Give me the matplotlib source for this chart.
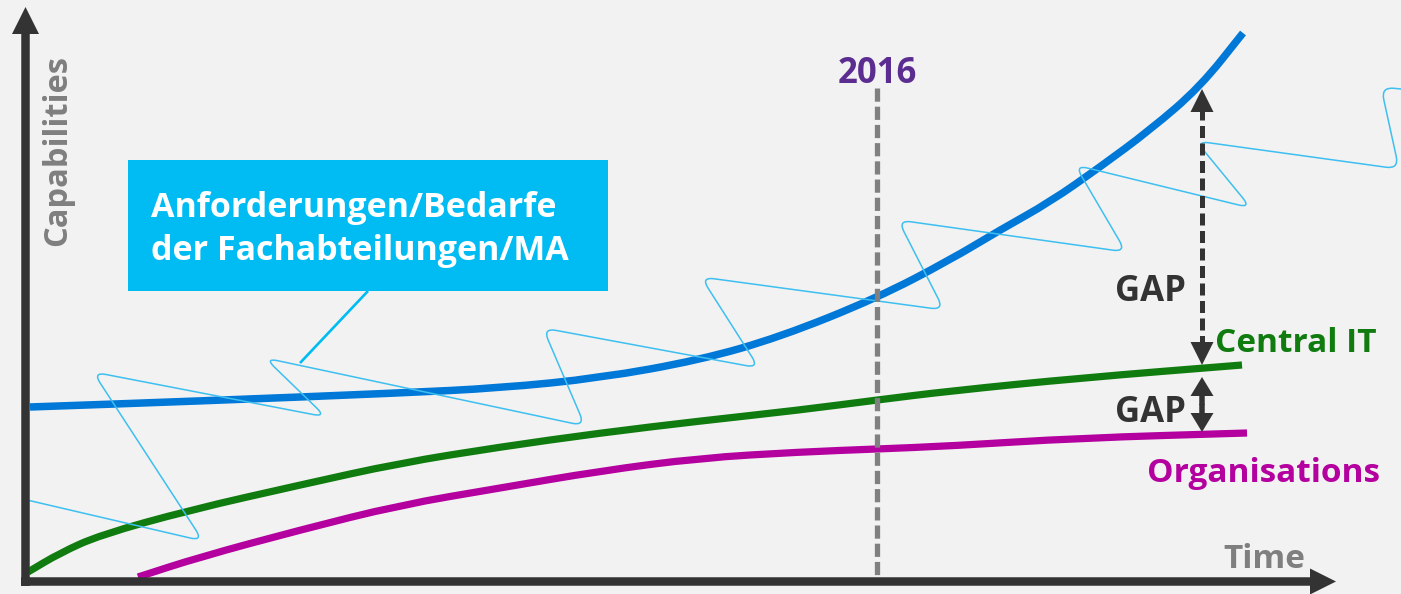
import numpy as np
import matplotlib
matplotlib.use("Agg")
import matplotlib.pyplot as plt
from matplotlib.path import Path
from matplotlib.patches import PathPatch, Rectangle

# ---------------- data (time units = horizontal position, capability = vertical position, top = high) -------------
blue_time = [30, 200, 400, 500, 600, 700, 780, 877, 950, 1000, 1050, 1100, 1150, 1200, 1243]
blue_cap = [407, 401, 393, 388, 378, 360, 337, 298, 260, 230, 202, 167, 130, 87, 33]

green_time = [28, 60, 100, 190, 300, 400, 500, 600, 700, 800, 877, 950, 1080, 1242]
green_cap = [572, 553, 535, 510, 485, 463, 447, 433, 421, 410, 400, 391, 378, 365]

magenta_time = [138, 200, 300, 400, 500, 600, 700, 800, 877, 950, 1080, 1247]
magenta_cap = [577, 557, 530, 505, 488, 471, 458, 452, 449, 446, 438, 433]

squiggle_time = [27, 203, 93, 326, 265, 585, 543, 759, 701, 944, 898, 1126, 1075, 1251, 1196, 1399, 1381, 1401]
squiggle_cap = [500, 541, 372, 417, 358, 426, 328, 368, 277, 310, 220, 252, 165, 208, 141, 169, 87, 89]

year_label = "2016"
year_time = 877

callout_lines = ["Anforderungen/Bedarfe", "der Fachabteilungen/MA"]
series_labels = ["Central IT", "Organisations"]
gap_label = "GAP"
x_label = "Time"
y_label = "Capabilities"

# ---------------- colours ----------------
BG = "#f2f2f2"
AXIS = "#333333"
BLUE = "#0078d7"
GREEN = "#107c10"
MAGENTA = "#b4009e"
CYAN = "#00bcf2"
SQUIG = "#3dbff0"
PURPLE = "#5c2d91"
GREY = "#7f7f7f"
DASH = "#808080"

FONT = "Open Sans"

fig = plt.figure(figsize=(14.01, 5.94), dpi=100, facecolor=BG)
ax = fig.add_axes([0, 0, 1, 1])
ax.set_facecolor(BG)
ax.set_xlim(0, 1401)
ax.set_ylim(594, 0)
ax.axis("off")


def smooth_path(xs, ys):
    """Quadratic B-spline style path: data points act as control points."""
    pts = [np.array([x, y], dtype=float) for x, y in zip(xs, ys)]
    verts = [pts[0], (pts[0] + pts[1]) / 2]
    codes = [Path.MOVETO, Path.LINETO]
    for i in range(1, len(pts) - 1):
        verts += [pts[i], (pts[i] + pts[i + 1]) / 2]
        codes += [Path.CURVE3, Path.CURVE3]
    verts.append(pts[-1])
    codes.append(Path.LINETO)
    return Path(verts, codes)


def rounded_path(xs, ys, r):
    pts = [np.array([x, y], dtype=float) for x, y in zip(xs, ys)]
    verts = [pts[0]]
    codes = [Path.MOVETO]
    for i in range(1, len(pts) - 1):
        p, a, b = pts[i], pts[i - 1], pts[i + 1]
        da = (a - p) / np.linalg.norm(a - p)
        db = (b - p) / np.linalg.norm(b - p)
        verts += [p + da * r, p, p + db * r]
        codes += [Path.LINETO, Path.CURVE3, Path.CURVE3]
    verts.append(pts[-1])
    codes.append(Path.LINETO)
    return Path(verts, codes)


# main curves
for xs, ys, col, lw in [(green_time, green_cap, GREEN, 5.2),
                        (magenta_time, magenta_cap, MAGENTA, 5.2),
                        (blue_time, blue_cap, BLUE, 5.4)]:
    ax.add_patch(PathPatch(smooth_path(xs, ys), fill=False, edgecolor=col, lw=lw,
                           capstyle="butt", joinstyle="round", zorder=3))

# squiggle (thin decorative line), rounded corners
ax.add_patch(PathPatch(rounded_path(squiggle_time, squiggle_cap, 13), fill=False,
                       edgecolor=SQUIG, lw=1.1, zorder=4))

# callout box and pointer
ax.add_patch(Rectangle((128, 160), 480, 131, facecolor=CYAN, edgecolor="none", zorder=5))
ax.plot([368, 300], [291, 363], color=CYAN, lw=1.9, solid_capstyle="butt", zorder=5)
ax.text(151, 217, callout_lines[0], color="white", fontsize=24.5, fontweight="bold",
        family=FONT, ha="left", va="baseline", zorder=6)
ax.text(151, 260, callout_lines[1], color="white", fontsize=24.5, fontweight="bold",
        family=FONT, ha="left", va="baseline", zorder=6)

# 2016 marker
ax.plot([year_time, year_time], [88, 578], color=DASH, lw=3.8, dashes=(2.5, 0.95), zorder=7)
ax.text(year_time, 83, year_label, color=PURPLE, fontsize=25, fontweight="bold", family=FONT,
        ha="center", va="baseline", zorder=7)

# axes arrows
ax.arrow(25.5, 586, 0, -579, width=8.5, head_width=27, head_length=27, length_includes_head=True,
         fc=AXIS, ec="none", zorder=8)
ax.arrow(21, 581.5, 1315, 0, width=8.5, head_width=26, head_length=26, length_includes_head=True,
         fc=AXIS, ec="none", zorder=8)

# GAP arrows
gx = 1202
ax.plot([gx, gx], [108, 346], color=AXIS, lw=3.6, dashes=(2.4, 1.1), zorder=8)
ax.arrow(gx, 112, 0, -23, width=0.01, head_width=23, head_length=23, length_includes_head=True,
         fc=AXIS, ec="none", zorder=8)
ax.arrow(gx, 342, 0, 23, width=0.01, head_width=23, head_length=23, length_includes_head=True,
         fc=AXIS, ec="none", zorder=8)
ax.arrow(gx, 405, 0, -28, width=5.5, head_width=23, head_length=19, length_includes_head=True,
         fc=AXIS, ec="none", zorder=8)
ax.arrow(gx, 404, 0, 28, width=5.5, head_width=23, head_length=19, length_includes_head=True,
         fc=AXIS, ec="none", zorder=8)

ax.text(1186, 301, gap_label, color=AXIS, fontsize=25, fontweight="bold", family=FONT,
        ha="right", va="baseline", zorder=9)
ax.text(1186, 422, gap_label, color=AXIS, fontsize=25, fontweight="bold", family=FONT,
        ha="right", va="baseline", zorder=9)

# series labels
ax.text(1215, 352, series_labels[0], color=GREEN, fontsize=24, fontweight="bold", family=FONT,
        ha="left", va="baseline", zorder=9)
ax.text(1147, 482, series_labels[1], color=MAGENTA, fontsize=24, fontweight="bold", family=FONT,
        ha="left", va="baseline", zorder=9)

# axis labels
ax.text(1223, 568, x_label, color=GREY, fontsize=24, fontweight="bold", family=FONT,
        ha="left", va="baseline", zorder=9)
ax.text(66, 150, y_label, color=GREY, fontsize=23.5, fontweight="bold", family=FONT,
        rotation=90, rotation_mode="anchor", ha="center", va="baseline", zorder=9)

fig.savefig("out.png", dpi=100, facecolor=BG)
